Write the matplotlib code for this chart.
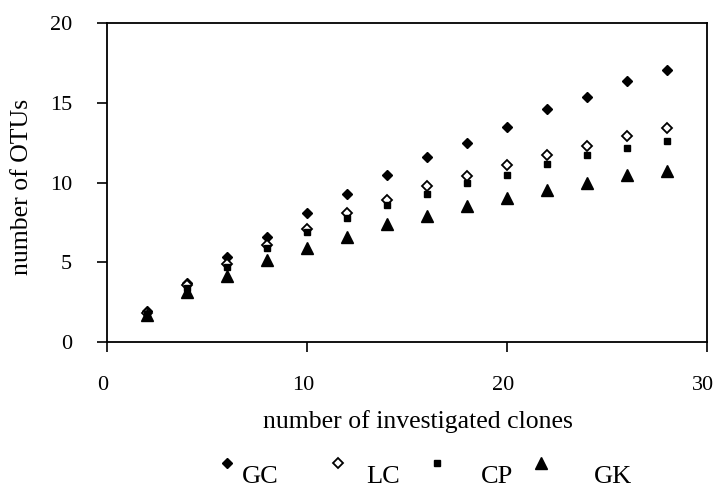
import numpy as np
import matplotlib
matplotlib.use('Agg')
from matplotlib import pyplot as plt
from matplotlib.transforms import ScaledTranslation

plt.rcParams['font.family'] = ['Liberation Serif', 'DejaVu Serif']

clones = [2, 4, 6, 8, 10, 12, 14, 16, 18, 20, 22, 24, 26, 28]
gc = [1.9, 3.7, 5.3, 6.6, 8.1, 9.3, 10.5, 11.6, 12.5, 13.5, 14.6, 15.4, 16.4, 17.1]
lc = [1.8, 3.55, 4.85, 6.1, 7.1, 8.1, 8.9, 9.75, 10.4, 11.1, 11.7, 12.3, 12.9, 13.45]
cp = [1.75, 3.35, 4.7, 5.9, 6.9, 7.75, 8.6, 9.25, 9.95, 10.5, 11.15, 11.75, 12.2, 12.6]
gk = [1.7, 3.1, 4.15, 5.1, 5.9, 6.6, 7.4, 7.9, 8.55, 9.05, 9.55, 9.95, 10.45, 10.75]
names = ['GC', 'LC', 'CP', 'GK']

fig = plt.figure(figsize=(7.13, 4.88), dpi=100)
ax = fig.add_axes([0.150, 0.300, 0.841, 0.652])

h1, = ax.plot(clones, gc, 'D', color='black', markersize=5.2)
h2, = ax.plot(clones, lc, 'D', color='black', markerfacecolor='white', markeredgewidth=1.3,
              markersize=5.0)
h3, = ax.plot(clones, cp, 's', color='black', markersize=5)
h4, = ax.plot(clones, gk, '^', color='black', markersize=8.5)

ax.set_xlim(0, 30)
ax.set_ylim(0, 20)
ax.set_xticks([0, 10, 20, 30])
ax.set_yticks([0, 5, 10, 15, 20])
ax.tick_params(direction='out', length=7, width=1.2, labelsize=16, pad=18)
for s in ax.spines.values():
    s.set_linewidth(1.3)

# nudge x tick labels a little to the left, like the original
off = ScaledTranslation(-0.04, 0, fig.dpi_scale_trans)
for t in ax.xaxis.get_major_ticks():
    t.label1.set_transform(t.label1.get_transform() + off)

ax.set_xlabel('number of investigated clones', fontsize=18.5)
ax.xaxis.set_label_coords(0.519, -0.214)
ax.set_ylabel('number of OTUs', fontsize=18.5)
ax.yaxis.set_label_coords(-0.123, 0.487)

# legend entries, text sits lower-right of the marker
leg_x = [0.3072, 0.4628, 0.6017, 0.7475]
leg_pad = [0.27, 0.77, 1.37, 1.71]
for h, name, x, p in zip([h1, h2, h3, h4], names, leg_x, leg_pad):
    fig.legend(handles=[h], labels=['\n' + name], loc='center left',
               bbox_to_anchor=(x, 0.049), frameon=False, fontsize=19,
               handlelength=0.6, handletextpad=p, borderpad=0, borderaxespad=0,
               numpoints=1)

fig.savefig('out.png', dpi=100)
